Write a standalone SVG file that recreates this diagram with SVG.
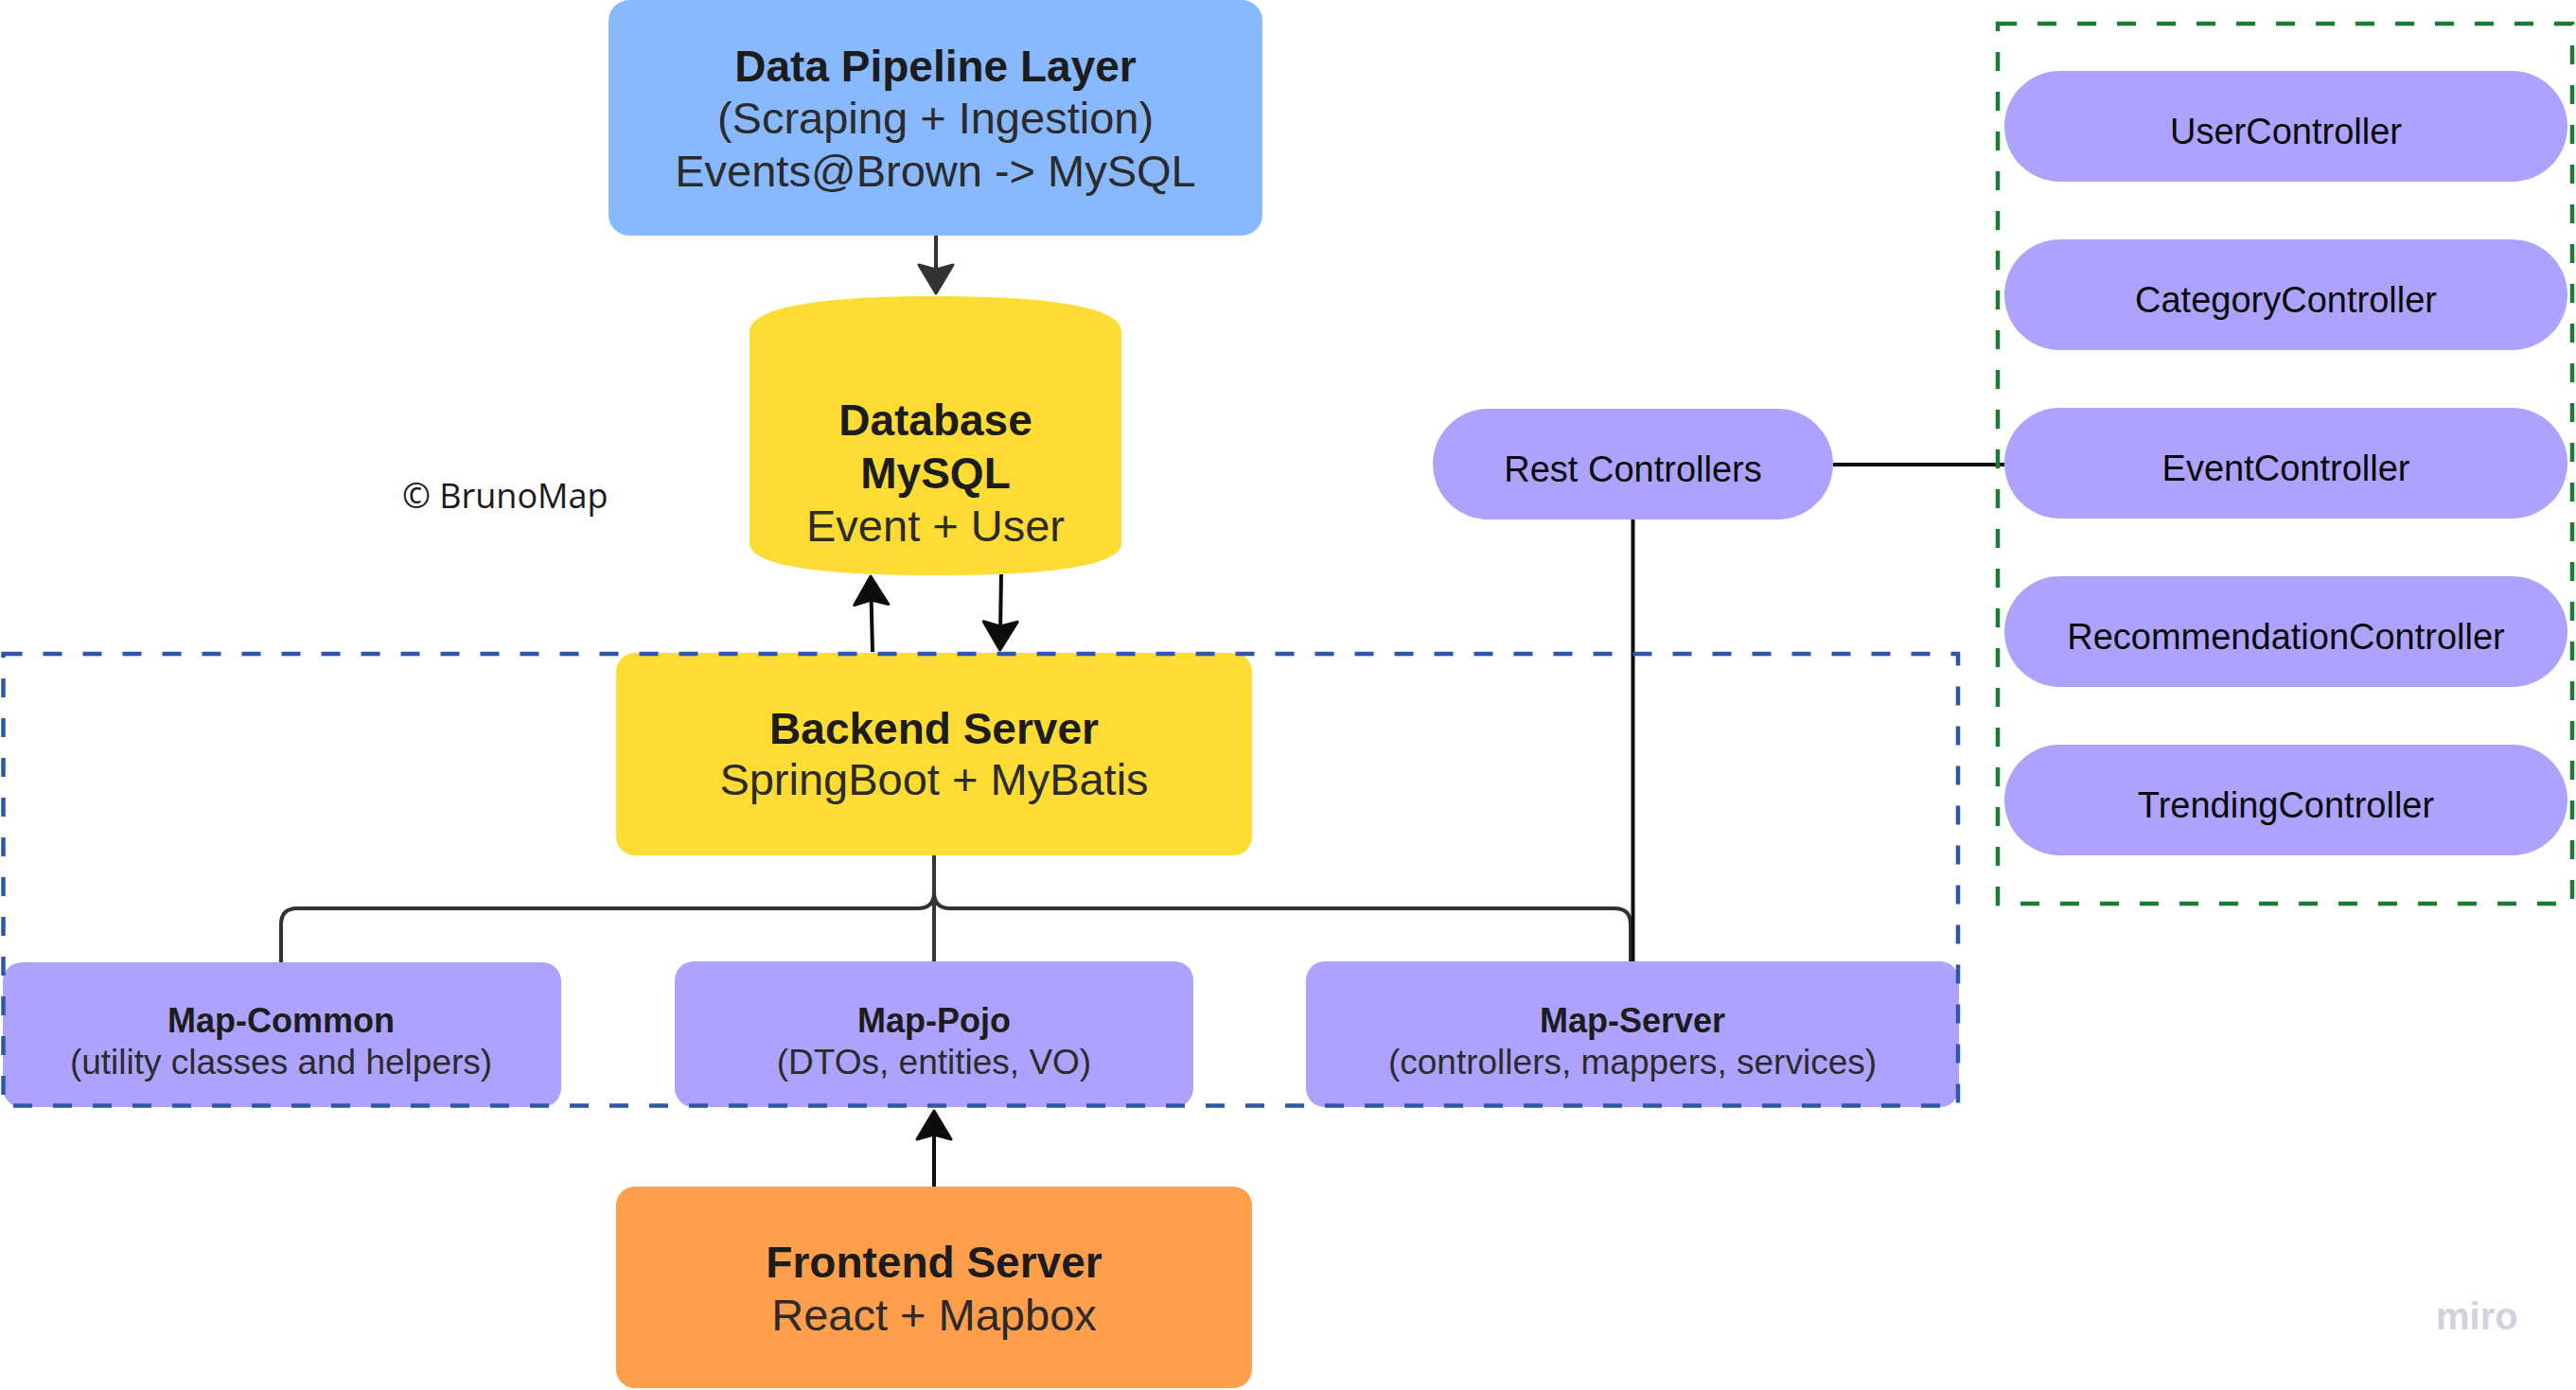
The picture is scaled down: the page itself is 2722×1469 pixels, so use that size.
<svg xmlns="http://www.w3.org/2000/svg" width="2722" height="1469" viewBox="0 0 2722 1469">
<defs>
<style>
.t{font-family:"Liberation Sans",Arial,sans-serif;text-anchor:middle}
.b{font-weight:bold;fill:#1c1c1c}
.r{fill:#2b2b2b}
.big{font-size:46px}
.bigr{font-size:47px}
.mid{font-size:36px}
.midr{font-size:37px}
.ctl{font-size:38px;fill:#0a0a0a}
.purple{fill:#ADA3FF}
.tree{fill:none;stroke:#333;stroke-width:4;stroke-linecap:butt;stroke-linejoin:round}
.link{fill:none;stroke:#0d0d0d;stroke-width:4}
</style>
<marker id="ah-dark" viewBox="0 0 34 40" refX="24" refY="20" markerWidth="34" markerHeight="40" markerUnits="userSpaceOnUse" orient="auto">
<path d="M2,2 L32,20 L2,38 L7,20 Z" fill="#333" stroke="#333" stroke-width="3" stroke-linejoin="round"/>
</marker>
<marker id="ah-black" viewBox="0 0 34 40" refX="24" refY="20" markerWidth="34" markerHeight="40" markerUnits="userSpaceOnUse" orient="auto">
<path d="M2,2 L32,20 L2,38 L7,20 Z" fill="#0d0d0d" stroke="#0d0d0d" stroke-width="3" stroke-linejoin="round"/>
</marker>
</defs>
<rect width="2722" height="1469" fill="#ffffff"/>

<g id="connectors">
<line x1="989" y1="249" x2="989" y2="302" stroke="#333" stroke-width="4" marker-end="url(#ah-dark)"/>
<line x1="922" y1="689" x2="920.2" y2="617" class="link" marker-end="url(#ah-black)"/>
<line x1="1058" y1="607" x2="1056.8" y2="679" class="link" marker-end="url(#ah-black)"/>
<line x1="987" y1="1254" x2="987" y2="1182" class="link" marker-end="url(#ah-black)"/>
<path class="tree" d="M987,904 V1016"/>
<path class="tree" d="M987,904 V943 Q987,960 970,960 H314 Q297,960 297,977 V1017"/>
<path class="tree" d="M987,904 V943 Q987,960 1004,960 H1706 Q1723,960 1723,977 V1016"/>
<path class="link" d="M1725.5,549 V1016"/>
<path class="link" d="M1937,491 H2118"/>
</g>

<g id="data-pipeline">
<rect x="643" y="0" width="691" height="249" rx="22" fill="#88B9FF"/>
<text class="t b big" x="988.5" y="86">Data Pipeline Layer</text>
<text class="t r bigr" x="988.5" y="141">(Scraping + Ingestion)</text>
<text class="t r bigr" x="988.5" y="197">Events@Brown -&gt; MySQL</text>
</g>

<g id="database">
<path d="M792,351 C792,322 880,313 988.5,313 C1097,313 1185,322 1185,351 L1185,574 C1185,600 1097,608 988.5,608 C880,608 792,600 792,574 Z" fill="#FEDC33"/>
<text class="t b big" x="988.5" y="460">Database</text>
<text class="t b big" x="988.5" y="516">MySQL</text>
<text class="t r bigr" x="988.5" y="572">Event + User</text>
</g>

<g id="copyright">
<text x="425" y="537" font-family="'Open Sans','Noto Sans',sans-serif" font-size="36" fill="#1a1a1a">© BrunoMap</text>
</g>

<g id="backend-server">
<rect x="651" y="690" width="672" height="214" rx="20" fill="#FEDC33"/>
<text class="t b big" x="987" y="786">Backend Server</text>
<text class="t r bigr" x="987" y="840">SpringBoot + MyBatis</text>
</g>

<g id="map-common">
<rect x="3" y="1017" width="590" height="153" rx="20" class="purple"/>
<text class="t b mid" x="297" y="1091">Map-Common</text>
<text class="t r midr" x="297" y="1135">(utility classes and helpers)</text>
</g>

<g id="map-pojo">
<rect x="713" y="1016" width="548" height="154" rx="20" class="purple"/>
<text class="t b mid" x="987" y="1091">Map-Pojo</text>
<text class="t r midr" x="987" y="1135">(DTOs, entities, VO)</text>
</g>

<g id="map-server">
<rect x="1380" y="1016" width="690" height="154" rx="20" class="purple"/>
<text class="t b mid" x="1725" y="1091">Map-Server</text>
<text class="t r midr" x="1725" y="1135">(controllers, mappers, services)</text>
</g>

<g id="frontend-server">
<rect x="651" y="1254" width="672" height="213" rx="20" fill="#FF9E4B"/>
<text class="t b big" x="987" y="1350">Frontend Server</text>
<text class="t r bigr" x="987" y="1406">React + Mapbox</text>
</g>

<g id="rest-controllers">
<rect x="1514" y="432" width="423" height="117" rx="58.5" class="purple"/>
<text class="t ctl" x="1725.5" y="509">Rest Controllers</text>
</g>

<g id="user-controller">
<rect x="2118" y="75" width="595" height="117" rx="58.5" class="purple"/>
<text class="t ctl" x="2415.5" y="152">UserController</text>
</g>
<g id="category-controller">
<rect x="2118" y="253" width="595" height="117" rx="58.5" class="purple"/>
<text class="t ctl" x="2415.5" y="330">CategoryController</text>
</g>
<g id="event-controller">
<rect x="2118" y="431" width="595" height="117" rx="58.5" class="purple"/>
<text class="t ctl" x="2415.5" y="508">EventController</text>
</g>
<g id="recommendation-controller">
<rect x="2118" y="609" width="595" height="117" rx="58.5" class="purple"/>
<text class="t ctl" x="2415.5" y="686">RecommendationController</text>
</g>
<g id="trending-controller">
<rect x="2118" y="787" width="595" height="117" rx="58.5" class="purple"/>
<text class="t ctl" x="2415.5" y="864">TrendingController</text>
</g>

<g id="backend-frame">
<rect x="3.5" y="691" width="2065.5" height="477.5" fill="none" stroke="#2F57A8" stroke-width="4.5" stroke-dasharray="20 22"/>
</g>
<g id="controllers-frame">
<rect x="2111" y="25" width="607" height="930" fill="none" stroke="#1A7B34" stroke-width="4.5" stroke-dasharray="20 22"/>
</g>

<g id="watermark">
<text x="2574" y="1405" font-family="'Liberation Sans',Arial,sans-serif" font-weight="bold" font-size="40" fill="#D2D1DE">miro</text>
</g>
</svg>
